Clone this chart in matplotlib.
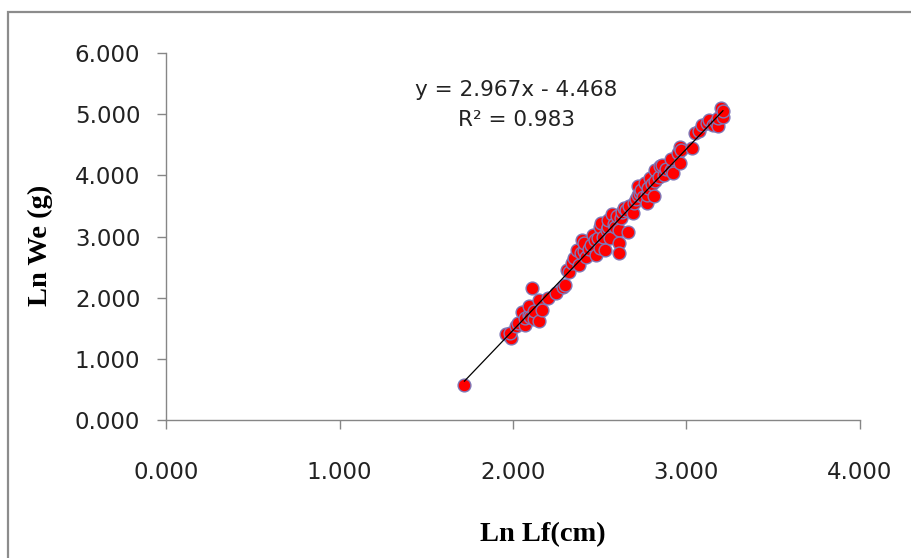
import matplotlib
matplotlib.use("Agg")
import matplotlib.pyplot as plt
from matplotlib.patches import Rectangle

# Ln Lf (cm) vs Ln We (g)
ln_lf = [
    1.72, 1.96, 1.99, 1.98, 2.02, 2.03, 2.05, 2.07, 2.07, 2.09,
    2.09, 2.10, 2.11, 2.12, 2.12, 2.15, 2.15, 2.17, 2.20, 2.25,
    2.29, 2.30, 2.31, 2.32, 2.34, 2.35, 2.37, 2.38, 2.39, 2.40,
    2.41, 2.41, 2.42, 2.44, 2.45, 2.46, 2.47, 2.48, 2.49, 2.50,
    2.50, 2.51, 2.52, 2.53, 2.54, 2.55, 2.55, 2.56, 2.57, 2.58,
    2.59, 2.60, 2.61, 2.61, 2.61, 2.62, 2.63, 2.64, 2.65, 2.66,
    2.67, 2.69, 2.70, 2.71, 2.72, 2.72, 2.73, 2.74, 2.75, 2.76,
    2.77, 2.77, 2.78, 2.79, 2.80, 2.81, 2.82, 2.82, 2.84, 2.85,
    2.86, 2.87, 2.88, 2.91, 2.91, 2.92, 2.95, 2.96, 2.96, 2.97,
    3.03, 3.05, 3.07, 3.09, 3.12, 3.13, 3.15, 3.17, 3.18, 3.18,
    3.20, 3.21, 3.21,
]
ln_we = [
    0.57, 1.40, 1.34, 1.42, 1.53, 1.58, 1.77, 1.56, 1.66, 1.72,
    1.86, 1.69, 2.16, 1.65, 1.78, 1.62, 1.96, 1.80, 2.00, 2.08,
    2.18, 2.21, 2.46, 2.42, 2.56, 2.65, 2.78, 2.54, 2.73, 2.95,
    2.76, 2.89, 2.67, 2.80, 2.86, 3.03, 2.94, 2.70, 2.98, 2.81,
    3.16, 3.22, 3.00, 2.78, 3.10, 3.16, 3.27, 2.97, 3.36, 3.20,
    3.15, 3.33, 3.11, 2.89, 2.73, 3.30, 3.40, 3.47, 3.44, 3.08,
    3.50, 3.38, 3.55, 3.62, 3.68, 3.82, 3.71, 3.76, 3.64, 3.87,
    3.55, 3.68, 3.80, 3.96, 3.86, 3.66, 4.09, 3.90, 3.98, 4.15,
    4.17, 4.01, 4.10, 4.09, 4.26, 4.04, 4.37, 4.20, 4.47, 4.42,
    4.45, 4.69, 4.72, 4.83, 4.86, 4.91, 4.83, 4.88, 4.80, 4.94,
    5.10, 4.96, 5.05,
]

slope = 2.967
intercept = -4.468
r2 = 0.983
x_ticks = [0, 1, 2, 3, 4]
y_ticks = [0, 1, 2, 3, 4, 5, 6]

axis_grey = "#868686"
text_col = "#222222"

fig = plt.figure(figsize=(9.12, 5.58), dpi=100)
# outer chart frame (only left and top edges fall inside the image)
fig.patches.append(Rectangle((8 / 912, -0.2), 1.2, 1.2 - 12 / 558,
                             transform=fig.transFigure, fill=False,
                             edgecolor="#8c8c8c", linewidth=1.6))

ax = fig.add_axes([166 / 912, 1 - 420 / 558, 694 / 912, 367 / 558])

ax.scatter(ln_lf, ln_we, s=85, color="#ff0000", edgecolors="#7f78b8",
           linewidths=1.0, zorder=3)

fit_x = [min(ln_lf), max(ln_lf)]
fit_y = [slope * v + intercept for v in fit_x]
ax.plot(fit_x, fit_y, color="black", linewidth=0.9, zorder=4)

ax.set_xlim(0, 4)
ax.set_ylim(0, 6)
ax.set_xticks(x_ticks)
ax.set_yticks(y_ticks)
ax.set_xticklabels([f"{v:.3f}" for v in x_ticks])
ax.set_yticklabels([f"{v:.3f}" for v in y_ticks])

for side in ("top", "right"):
    ax.spines[side].set_visible(False)
for side in ("left", "bottom"):
    ax.spines[side].set_color(axis_grey)
    ax.spines[side].set_linewidth(1.0)

ax.tick_params(axis="both", direction="out", length=6.5, width=1.0,
               color=axis_grey, labelsize=16.5, labelcolor=text_col)
ax.tick_params(axis="x", pad=23)
ax.tick_params(axis="y", pad=12)

ax.text(2.02, 5.4, f"y = {slope:.3f}x - {abs(intercept):.3f}", ha="center",
        va="center", fontsize=15.5, color=text_col)
ax.text(2.02, 4.9, f"R² = {r2:.3f}", ha="center", va="center",
        fontsize=15.5, color=text_col)

fig.text(543 / 912, 1 - 535 / 558, "Ln Lf(cm)", ha="center", va="center",
         fontsize=20.5, fontweight="bold", family="Liberation Serif")
fig.text(40 / 912, 1 - 245 / 558, "Ln We (g)", ha="center", va="center",
         rotation=90, fontsize=20.5, fontweight="bold", family="Liberation Serif")

fig.savefig("out.png", dpi=100)
